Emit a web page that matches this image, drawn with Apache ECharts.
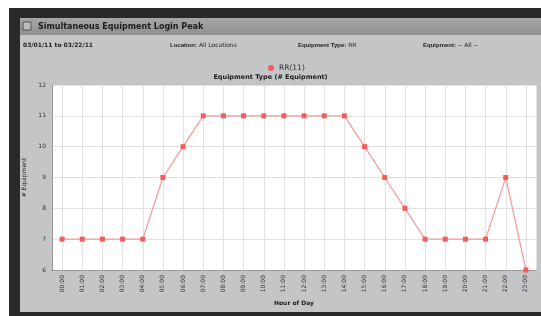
<!DOCTYPE html>
<html>
<head>
<meta charset="utf-8">
<script src="https://cdn.jsdelivr.net/npm/echarts@6/dist/echarts.min.js"></script>
<style>
  html, body { margin: 0; padding: 0; background: #fff; }
  #peakChart { width: 541px; height: 316px; }
</style>
</head>
<body>
<div id="peakChart"></div>
<script>
// hours of day
var hours = ["00:00", "01:00", "02:00", "03:00", "04:00", "05:00", "06:00", "07:00",
  "08:00", "09:00", "10:00", "11:00", "12:00", "13:00", "14:00", "15:00",
  "16:00", "17:00", "18:00", "19:00", "20:00", "21:00", "22:00", "23:00"];
// RR(11) logins per hour
var rrValues = [7, 7, 7, 7, 7, 9, 10, 11, 11, 11, 11, 11, 11, 11, 11, 10, 9, 8, 7, 7, 7, 7, 9, 6];
var yMin = 6, yMax = 12, yStep = 1;

// helper axis with half-steps so grid lines go through the points
var halfSteps = [];
for (var i = 0; i <= hours.length * 2; i++) halfSteps.push(String(i));

var chart = echarts.init(document.getElementById("peakChart"));
var txt = "#1c1c1c";
chart.setOption({
  animation: false,
  backgroundColor: "#fff",
  textStyle: { fontFamily: "DejaVu Sans" },
  graphic: [
    // dark frame
    { type: "rect", z: -10, shape: { x: 9, y: 8, width: 532, height: 308 }, style: { fill: "#2a2929" } },
    // panel
    { type: "rect", z: -10, shape: { x: 20, y: 18, width: 521, height: 294 }, style: { fill: "#c3c5c7" } },
    // header bar
    {
      type: "rect", z: -10, shape: { x: 20, y: 18, width: 521, height: 17 },
      style: {
        fill: new echarts.graphic.LinearGradient(0, 0, 0, 1, [
          { offset: 0, color: "#a4a6a8" },
          { offset: 1, color: "#8d8f91" }
        ])
      }
    },
    { type: "rect", shape: { x: 23, y: 22, width: 8, height: 8 }, style: { fill: "#b9bbbd", stroke: "#555", lineWidth: 1 } },
    { type: "text", x: 38, y: 27, style: { text: "Simultaneous Equipment Login Peak", fill: txt, font: "bold 8px DejaVu Sans", verticalAlign: "middle" } },
    // filter row
    { type: "text", x: 23, y: 45, style: { text: "03/01/11 to 03/22/11", fill: txt, font: "bold 6px DejaVu Sans", verticalAlign: "middle" } },
    {
      type: "text", x: 170, y: 45,
      style: {
        text: "{b|Location:} All Locations", fill: txt, font: "6px DejaVu Sans", verticalAlign: "middle",
        rich: { b: { fontWeight: "bold", fontSize: 6 } }
      }
    },
    {
      type: "text", x: 298, y: 45,
      style: {
        text: "{b|Equipment Type:} RR", fill: txt, font: "6px DejaVu Sans", verticalAlign: "middle",
        rich: { b: { fontWeight: "bold", fontSize: 6 } }
      }
    },
    {
      type: "text", x: 423, y: 45,
      style: {
        text: "{b|Equipment:} -- All --", fill: txt, font: "6px DejaVu Sans", verticalAlign: "middle",
        rich: { b: { fontWeight: "bold", fontSize: 6 } }
      }
    }
  ],
  title: {
    text: "Equipment Type (# Equipment)",
    left: "center",
    top: 69,
    textStyle: { fontSize: 6.5, fontWeight: "bold", color: txt }
  },
  legend: {
    data: ["RR(11)"],
    top: 59,
    left: 263,
    icon: "circle",
    itemWidth: 6,
    itemHeight: 6,
    itemGap: 4,
    textStyle: { fontSize: 7.5, color: "#333" }
  },
  grid: { left: 52, top: 85, right: 5, bottom: 46, backgroundColor: "#fff", show: true, borderWidth: 0 },
  xAxis: [
    {
      type: "category",
      data: hours,
      boundaryGap: true,
      name: "Hour of Day",
      nameLocation: "middle",
      nameGap: 26,
      nameTextStyle: { fontSize: 6, fontWeight: "bold", color: txt },
      axisLine: { lineStyle: { color: "#9a9a9a", width: 1 } },
      axisTick: { show: false },
      axisLabel: { rotate: 90, fontSize: 6, color: "#333", margin: 5 },
      splitLine: { show: false }
    },
    {
      type: "category",
      data: halfSteps,
      boundaryGap: false,
      position: "bottom",
      axisLine: { show: false },
      axisTick: { show: false },
      axisLabel: { show: false },
      splitLine: {
        show: true,
        interval: function (idx) { return idx % 2 === 1 || idx === halfSteps.length - 1; },
        lineStyle: { color: "#e2e2e2", width: 1 }
      }
    }
  ],
  yAxis: {
    type: "value",
    min: yMin,
    max: yMax,
    interval: yStep,
    name: "# Equipment",
    nameLocation: "middle",
    nameGap: 14,
    nameRotate: 90,
    nameTextStyle: { fontSize: 6, color: txt },
    axisLine: { show: true, lineStyle: { color: "#9a9a9a" } },
    axisTick: { show: false },
    axisLabel: { fontSize: 6, color: "#333", margin: 6 },
    splitLine: { lineStyle: { color: "#e2e2e2" } }
  },
  series: [
    {
      name: "RR(11)",
      type: "line",
      data: rrValues,
      xAxisIndex: 0,
      symbol: "rect",
      symbolSize: 5,
      lineStyle: { color: "#f59a9a", width: 1.2 },
      itemStyle: { color: "#f25c5c" }
    }
  ]
});
</script>
</body>
</html>
